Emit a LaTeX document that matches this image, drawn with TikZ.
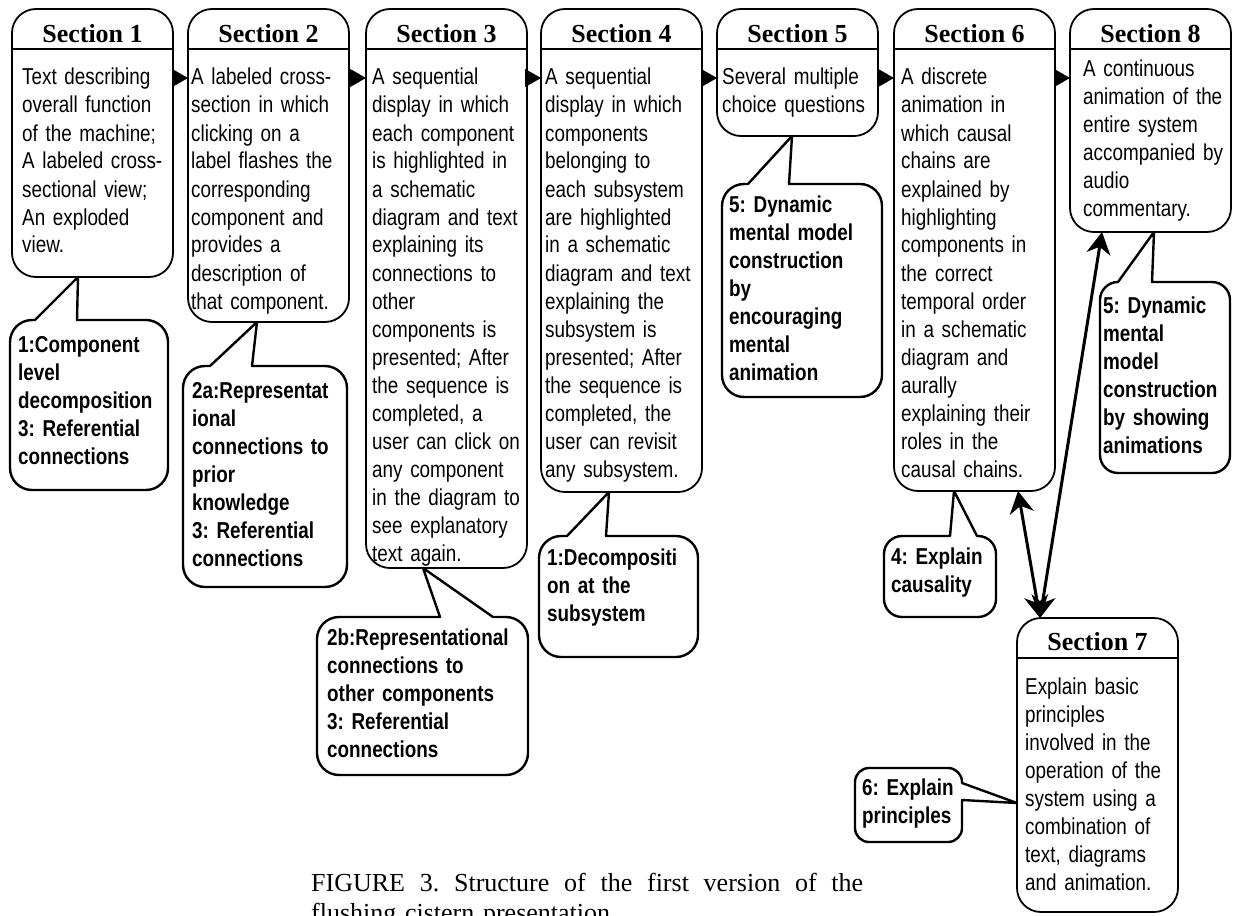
\documentclass[tikz,border=0pt]{standalone}
\usepackage{fontspec}
\setmainfont{Liberation Serif}
\newfontfamily\narrowsans{Liberation Sans}[FakeStretch=0.82]
\usetikzlibrary{arrows.meta}
\frenchspacing

\begin{document}
\begin{tikzpicture}[x=1pt, y=-1pt,
    secbox/.style = {draw, line width=1.8pt, rounded corners=24pt, anchor=north west,
                     minimum width=161pt, inner sep=0pt, outer sep=0pt},
    headline/.style = {line width=1.2pt},
    sechead/.style = {font=\bfseries\fontsize{26}{30}\selectfont, inner sep=0pt},
    body/.style = {font=\narrowsans\fontsize{23}{28}\selectfont, anchor=base west,
                   inner sep=0pt, text width=250pt, align=left},
    callbox/.style = {draw, fill=white, line width=2.4pt, line join=round},
    calltext/.style = {body, font=\narrowsans\bfseries\fontsize{23}{28}\selectfont},
    flow/.style = {-{Triangle[length=16pt, width=18pt]}, line width=0.8pt},
    link/.style = {{Stealth[length=22pt, width=24pt, inset=7pt]}-{Stealth[length=22pt, width=24pt, inset=7pt]},
                   line width=3pt},
]
    \useasboundingbox (0,0) rectangle (1233,915);
    % Section 1
    \node[secbox, minimum height=268pt] (s1) at (12,9) {};
    \draw[headline] ([yshift=-40pt]s1.north west) -- ([yshift=-40pt]s1.north east);
    \node[sechead] (s1h) at (92.5,34) {Section 1};
    \node[body] (s1t) at (22,85) {Text describing\\overall function\\of the machine;\\A labeled cross-\\sectional view;\\An exploded\\view.};
    % Section 2
    \node[secbox, minimum height=313pt] (s2) at (188,9) {};
    \draw[headline] ([yshift=-40pt]s2.north west) -- ([yshift=-40pt]s2.north east);
    \node[sechead] (s2h) at (268.5,34) {Section 2};
    \node[body] (s2t) at (191,85) {A labeled cross-\\section in which\\clicking on a\\label flashes the\\corresponding\\component and\\provides a\\description of\\that component.};
    % Section 3
    \node[secbox, minimum height=559pt] (s3) at (366,9) {};
    \draw[headline] ([yshift=-40pt]s3.north west) -- ([yshift=-40pt]s3.north east);
    \node[sechead] (s3h) at (446.5,34) {Section 3};
    \node[body] (s3t) at (372,85) {A sequential\\display in which\\each component\\is highlighted in\\a schematic\\diagram and text\\explaining its\\connections to\\other\\components is\\presented; After\\the sequence is\\completed, a\\user can click on\\any component\\in the diagram to\\see explanatory\\text again.};
    % Section 4
    \node[secbox, minimum height=483pt] (s4) at (541,9) {};
    \draw[headline] ([yshift=-40pt]s4.north west) -- ([yshift=-40pt]s4.north east);
    \node[sechead] (s4h) at (621.5,34) {Section 4};
    \node[body] (s4t) at (545,85) {A sequential\\display in which\\components\\belonging to\\each subsystem\\are highlighted\\in a schematic\\diagram and text\\explaining the\\subsystem is\\presented; After\\the sequence is\\completed, the\\user can revisit\\any subsystem.};
    % Section 5
    \node[secbox, minimum height=127pt] (s5) at (717,9) {};
    \draw[headline] ([yshift=-40pt]s5.north west) -- ([yshift=-40pt]s5.north east);
    \node[sechead] (s5h) at (797.5,34) {Section 5};
    \node[body] (s5t) at (722,85) {Several multiple\\choice questions};
    % Section 6
    \node[secbox, minimum height=482pt] (s6) at (894,9) {};
    \draw[headline] ([yshift=-40pt]s6.north west) -- ([yshift=-40pt]s6.north east);
    \node[sechead] (s6h) at (974.5,34) {Section 6};
    \node[body] (s6t) at (901,85) {A discrete\\animation in\\which causal\\chains are\\explained by\\highlighting\\components in\\the correct\\temporal order\\in a schematic\\diagram and\\aurally\\explaining their\\roles in the\\causal chains.};
    % Section 8
    \node[secbox, minimum height=223pt] (s8) at (1070,9) {};
    \draw[headline] ([yshift=-40pt]s8.north west) -- ([yshift=-40pt]s8.north east);
    \node[sechead] (s8h) at (1150.5,34) {Section 8};
    \node[body] (s8t) at (1083,77) {A continuous\\animation of the\\entire system\\accompanied by\\audio\\commentary.};
    % Section 7
    \node[secbox, minimum height=294pt] (s7) at (1017,618) {};
    \draw[headline] ([yshift=-40pt]s7.north west) -- ([yshift=-40pt]s7.north east);
    \node[sechead] (s7h) at (1097.5,642) {Section 7};
    \node[body] (s7t) at (1025,694) {Explain basic\\principles\\involved in the\\operation of the\\system using a\\combination of\\text, diagrams\\and animation.};
    % Sequence arrows
    \draw[flow] ([yshift=-69pt]s1.north east) -- ([yshift=-69pt]s2.north west);
    \draw[flow] ([yshift=-69pt]s2.north east) -- ([yshift=-69pt]s3.north west);
    \draw[flow] ([yshift=-69pt]s3.north east) -- ([yshift=-69pt]s4.north west);
    \draw[flow] ([yshift=-69pt]s4.north east) -- ([yshift=-69pt]s5.north west);
    \draw[flow] ([yshift=-69pt]s5.north east) -- ([yshift=-69pt]s6.north west);
    \draw[flow] ([yshift=-69pt]s6.north east) -- ([yshift=-69pt]s8.north west);
    % Links to Section 7
    \draw[link] ([xshift=124pt]s6.south west) -- ([xshift=23pt]s7.north west);
    \draw[link] ([xshift=32pt]s8.south west) -- ([xshift=23pt]s7.north west);
    % Callout 1
    \draw[callbox, rounded corners=22pt] (77,320) -- (168,320) -- (168,490) -- (10,490) -- (10,320)
        [sharp corners] -- (35,320) -- ([xshift=66pt]s1.south west) -- cycle;
    \node[calltext] (c1) at (18,352) {1:Component\\level\\decomposition\\3: Referential\\connections};
    % Callout 2a
    \draw[callbox, rounded corners=22pt] (252,366) -- (347,366) -- (347,587) -- (183,587) -- (183,366)
        [sharp corners] -- (210,366) -- ([xshift=69pt]s2.south west) -- cycle;
    \node[calltext] (c2a) at (192,398) {2a:Representat\\ional\\connections to\\prior\\knowledge\\3: Referential\\connections};
    % Callout 2b
    \draw[callbox, rounded corners=22pt] (493,617) -- (528,617) -- (528,775) -- (317,775) -- (317,617)
        [sharp corners] -- (440,617) -- ([xshift=57pt]s3.south west) -- cycle;
    \node[calltext] (c2b) at (327,645) {2b:Representational\\connections to\\other components\\3: Referential\\connections};
    % Callout subsystem
    \draw[callbox, rounded corners=22pt] (606,536) -- (698,536) -- (698,657) -- (539,657) -- (539,536)
        [sharp corners] -- (567,536) -- ([xshift=68pt]s4.south west) -- cycle;
    \node[calltext] (c4) at (547,565) {1:Decompositi\\on at the\\subsystem};
    % Callout mental animation
    \draw[callbox, rounded corners=22pt] (789,184) -- (882,184) -- (882,397) -- (722,397) -- (722,184)
        [sharp corners] -- (748,184) -- ([xshift=75pt]s5.south west) -- cycle;
    \node[calltext] (c5) at (729,212) {5: Dynamic\\mental model\\construction\\by\\encouraging\\mental\\animation};
    % Callout causality
    \draw[callbox, rounded corners=18pt] (977,536) -- (996,536) -- (996,617) -- (884,617) -- (884,536)
        [sharp corners] -- (950,536) -- ([xshift=60pt]s6.south west) -- cycle;
    \node[calltext] (c6) at (891,564) {4: Explain\\causality};
    % Callout showing animations
    \draw[callbox, rounded corners=18pt] (1152,282) -- (1230,282) -- (1230,473) -- (1100,473) -- (1100,282)
        [sharp corners] -- (1118,282) -- ([xshift=84pt]s8.south west) -- cycle;
    \node[calltext] (c8) at (1103,313) {5: Dynamic\\mental\\model\\construction\\by showing\\animations};
    % Callout principles
    \draw[callbox, rounded corners=14pt] (962,800) -- (962,842) -- (855,842) -- (855,768) -- (962,768)
        [sharp corners] -- (962,783) -- ([yshift=-185pt]s7.north west) -- cycle;
    \node[calltext] (c7) at (862,795) {6: Explain\\principles};
    % Caption
    \node[font=\fontsize{26}{30}\selectfont, anchor=base west, inner sep=0pt, text width=560pt, align=left] (cap)
        at (311,891) {\hbox to 552pt{FIGURE\hfil 3.\hfil Structure\hfil of\hfil the\hfil first\hfil version\hfil of\hfil the}\\flushing cistern presentation.};
\end{tikzpicture}
\end{document}
